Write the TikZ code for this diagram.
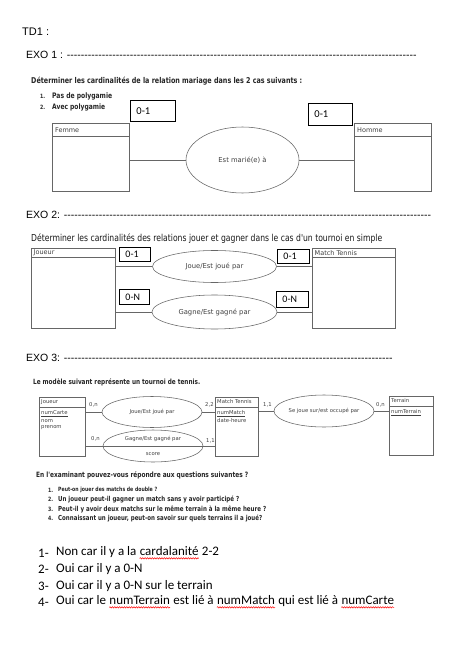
\documentclass[tikz,border=0pt]{standalone}
\usepackage{fontspec}
\setmainfont{Liberation Sans}
\newfontfamily\scanfont[FakeStretch=0.8]{DejaVu Sans}
\newfontfamily\labfont{DejaVu Sans}
\newfontfamily\calfont{Carlito}
\usepackage{graphicx}
\usetikzlibrary{shapes.geometric,decorations.pathmorphing}
\newcommand\fitw[2]{\resizebox{#1bp}{!}{#2}}
\newcommand\redwave[1]{\tikz[baseline=(rw.base)]{\node[inner sep=0pt] (rw) {#1};\draw[red, line width=0.5bp, decorate, decoration={snake, amplitude=0.7bp, segment length=2.4bp}] ([yshift=-2.6bp]rw.base west) -- ([yshift=-2.6bp]rw.base east);}}
\newcommand\dashrule[1]{\makebox[#1bp]{\leaders\hbox{-}\hfill}}
\begin{document}
\begin{tikzpicture}[x=1bp,y=-1bp,
  scanline/.style={draw=black!60, line width=0.55bp},
  ent/.style={scanline, rectangle, anchor=north west, inner sep=0pt},
  rel/.style={scanline, ellipse, inner sep=0pt},
  card/.style={draw=black, line width=0.9bp, anchor=north west, inner ysep=0pt, inner xsep=6bp, align=left, font=\calfont\fontsize{10.5bp}{12bp}\selectfont},
  lbl/.style={text=black!75, inner sep=0pt, font=\labfont\fontsize{6.8bp}{8bp}\selectfont},
  hlbl/.style={text=black!75, inner sep=0pt, anchor=west, font=\labfont\fontsize{6.5bp}{8bp}\selectfont},
  slbl/.style={text=black!75, inner sep=0pt, font=\labfont\fontsize{5.3bp}{6.3bp}\selectfont},
  sattr/.style={slbl, anchor=west},
  head/.style={text=black, inner sep=0pt, anchor=west, font=\fontsize{10.5bp}{12bp}\selectfont},
  scan/.style={text=black!85, inner sep=0pt, anchor=west, font=\scanfont\fontsize{8bp}{9bp}\selectfont},
  ans/.style={inner sep=0pt, anchor=west, font=\calfont\fontsize{13bp}{15bp}\selectfont},
]
\fill[white] (0,0) rectangle (465,654);
\useasboundingbox (0,0) rectangle (465,654);

% ---------- headings
\node[head, font=\fontsize{11bp}{13bp}\selectfont] (td1) at (22,32) {TD1 :};
\node[head] (exo1) at (26,55) {EXO 1 : \dashrule{351}};
\node[head] (exo2) at (26,215) {EXO 2: \dashrule{368}};
\node[head] (exo3) at (26,358) {EXO 3: \dashrule{331}};

% ---------- EXO 1
\node[scan] (t11) at (31,81) {\fitw{271}{\bfseries Déterminer les cardinalités de la relation mariage dans les 2 cas suivants :}};
\node[scan] (n11) at (40,96) {\fitw{5}{\bfseries 1.}};
\node[scan] (t12) at (52,96) {\fitw{60}{\bfseries Pas de polygamie}};
\node[scan] (n12) at (40,107) {\fitw{5}{\bfseries 2.}};
\node[scan] (t13) at (52,107) {\fitw{53}{\bfseries Avec polygamie}};

\node[ent, minimum width=77bp, minimum height=68bp] (femme) at (52,123) {};
\draw[scanline] ([yshift=-13bp]femme.north west) -- ([yshift=-13bp]femme.north east);
\node[hlbl] (femmet) at ([xshift=3bp,yshift=-7bp]femme.north west) {Femme};
\node[ent, minimum width=77bp, minimum height=68bp] (homme) at (354,123) {};
\draw[scanline] ([yshift=-13bp]homme.north west) -- ([yshift=-13bp]homme.north east);
\node[hlbl] (hommet) at ([xshift=3bp,yshift=-7bp]homme.north west) {Homme};
\node[rel, lbl, scanline, minimum width=113bp, minimum height=66bp] (mar) at (242.5,160) {Est marié(e) à};
\draw[scanline] (femme.east |- mar.west) -- (mar.west);
\draw[scanline] (mar.east) -- (homme.west |- mar.east);
\node[card, text width=33bp, minimum height=21bp] (c11) at (130,100) {0-1};
\node[card, text width=32bp, minimum height=22bp] (c12) at (308,103) {0-1};

% ---------- EXO 2
\node[scan, text=black!90] (t21) at (31,239) {\fitw{351}{Déterminer les cardinalités des relations jouer et gagner dans le cas d'un tournoi en simple}};
\node[ent, minimum width=84bp, minimum height=80bp] (joueur2) at (31,248) {};
\draw[scanline] ([yshift=-9bp]joueur2.north west) -- ([yshift=-9bp]joueur2.north east);
\node[hlbl] (joueur2t) at ([xshift=2.5bp,yshift=-4.8bp]joueur2.north west) {Joueur};
\node[ent, minimum width=83bp, minimum height=80bp] (match2) at (312,248) {};
\draw[scanline] ([yshift=-9bp]match2.north west) -- ([yshift=-9bp]match2.north east);
\node[hlbl] (match2t) at ([xshift=2.5bp,yshift=-4.8bp]match2.north west) {Match Tennis};
\node[rel, lbl, scanline, minimum width=124bp, minimum height=32bp] (r21) at (214.5,266.5) {Joue/Est joué par};
\node[rel, lbl, scanline, minimum width=125bp, minimum height=34bp] (r22) at (214.5,312) {Gagne/Est gagné par};
\draw[scanline] (joueur2.east |- r21.west) -- (r21.west);
\draw[scanline] (r21.east) -- (match2.west |- r21.east);
\draw[scanline] (joueur2.east |- r22.west) -- (r22.west);
\draw[scanline] (r22.east) -- (match2.west |- r22.east);
\node[card, text width=19bp, minimum height=14bp, font=\calfont\fontsize{10bp}{11bp}\selectfont] (c21) at (119,247) {0-1};
\node[card, text width=20bp, minimum height=14bp, font=\calfont\fontsize{10bp}{11bp}\selectfont] (c22) at (277,249) {0-1};
\node[card, text width=18bp, minimum height=15bp, font=\calfont\fontsize{10bp}{11bp}\selectfont] (c23) at (119,289) {0-N};
\node[card, text width=20bp, minimum height=16bp, font=\calfont\fontsize{10bp}{11bp}\selectfont] (c24) at (276,291) {0-N};

% ---------- EXO 3
\node[scan] (t31) at (33,382) {\fitw{167}{\bfseries Le modèle suivant représente un tournoi de tennis.}};
\node[ent, minimum width=46bp, minimum height=59bp] (j3) at (39,397) {};
\draw[scanline] ([yshift=-10bp]j3.north west) -- ([yshift=-10bp]j3.north east);
\node[sattr] (j3t) at ([xshift=2bp,yshift=-5bp]j3.north west) {Joueur};
\node[sattr] (j3a) at (41,414) {\underline{numCarte}};
\node[sattr] (j3b) at (41,421) {nom};
\node[sattr] (j3c) at (41,428) {prenom};
\node[ent, minimum width=43bp, minimum height=59bp] (m3) at (215,397) {};
\draw[scanline] ([yshift=-10bp]m3.north west) -- ([yshift=-10bp]m3.north east);
\node[sattr] (m3t) at ([xshift=2bp,yshift=-5bp]m3.north west) {Match Tennis};
\node[sattr] (m3a) at (217,414) {\underline{numMatch}};
\node[sattr] (m3b) at (217,421) {date-heure};
\node[ent, minimum width=44bp, minimum height=59bp] (t3) at (389,396) {};
\draw[scanline] ([yshift=-10bp]t3.north west) -- ([yshift=-10bp]t3.north east);
\node[sattr] (t3t) at ([xshift=2bp,yshift=-5bp]t3.north west) {Terrain};
\node[sattr] (t3a) at (391,413) {\underline{numTerrain}};

\node[rel, slbl, scanline, minimum width=100bp, minimum height=31bp] (r31) at (152,412) {Joue/Est joué par};
\node[rel, slbl, scanline, minimum width=98bp, minimum height=32bp] (r32) at (324,411) {Se joue sur/est occupé par};
\node[rel, minimum width=100bp, minimum height=32bp] (r33) at (153,446) {};
\node[slbl] (r33a) at ([yshift=7bp]r33.center) {Gagne/Est gagné par};
\node[slbl] (r33b) at ([yshift=-8bp]r33.center) {score};
\draw[scanline] (j3.east |- r31.west) -- (r31.west);
\draw[scanline] (r31.east) -- (m3.west |- r31.east);
\draw[scanline] (m3.east |- r32.west) -- (r32.west);
\draw[scanline] (r32.east) -- (t3.west |- r32.east);
\draw[scanline] (j3.east |- r33.center) -- (m3.west |- r33.center);
\node[slbl, anchor=west] (k1) at (89,405) {0,n};
\node[slbl, anchor=west] (k2) at (205,405) {2,2};
\node[slbl, anchor=west] (k3) at (263,405) {1,1};
\node[slbl, anchor=west] (k4) at (376,405) {0,n};
\node[slbl, anchor=west] (k5) at (91,439) {0,n};
\node[slbl, anchor=west] (k6) at (206,441) {1,1};

\node[scan] (t41) at (36,475) {\fitw{212}{\bfseries En l'examinant pouvez-vous répondre aux questions suivantes ?}};
\node[scan] (q1n) at (48,490) {\fitw{5}{\bfseries 1.}};
\node[scan] (q1) at (58,490) {\fitw{99}{\bfseries Peut-on jouer des matchs de double ?}};
\node[scan] (q2n) at (48,499) {\fitw{5}{\bfseries 2.}};
\node[scan] (q2) at (58,499) {\fitw{181}{\bfseries Un joueur peut-il gagner un match sans y avoir participé ?}};
\node[scan] (q3n) at (48,509) {\fitw{5}{\bfseries 3.}};
\node[scan] (q3) at (58,509) {\fitw{208}{\bfseries Peut-il y avoir deux matchs sur le même terrain à la même heure ?}};
\node[scan] (q4n) at (48,518) {\fitw{5}{\bfseries 4.}};
\node[scan] (q4) at (58,518) {\fitw{204}{\bfseries Connaissant un joueur, peut-on savoir sur quels terrains il a joué?}};

% ---------- answers
\node[ans] (a1n) at (38,553) {1-};
\node[ans] (a1) at (56,553) {Non car il y a la \redwave{cardalanité} 2-2};
\node[ans] (a2n) at (38,569) {2-};
\node[ans] (a2) at (56,569) {Oui car il y a 0-N};
\node[ans] (a3n) at (38,586) {3-};
\node[ans] (a3) at (56,586) {Oui car il y a 0-N sur le terrain};
\node[ans] (a4n) at (38,602) {4-};
\node[ans] (a4) at (56,602) {Oui car le \redwave{numTerrain} est lié à \redwave{numMatch} qui est lié à \redwave{numCarte}};
\end{tikzpicture}
\end{document}
